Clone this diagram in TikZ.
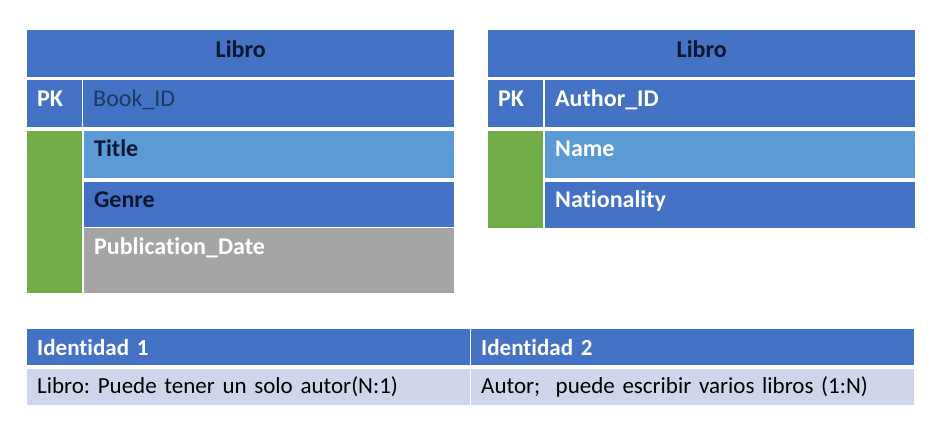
\documentclass[tikz,border=0pt]{standalone}
\usepackage{fontspec}
\setmainfont{Carlito}[Ligatures=NoCommon]
\usetikzlibrary{positioning}
\definecolor{hdrblue}{HTML}{4472C4}
\definecolor{ltblue}{HTML}{5B9BD5}
\definecolor{pkgreen}{HTML}{70AD47}
\definecolor{dategray}{HTML}{A5A5A5}
\definecolor{rowlav}{HTML}{CFD5EA}
\definecolor{idtext}{HTML}{1F3864}
\definecolor{darktext}{HTML}{0B1630}
\newcommand{\cellfont}{\fontsize{24}{27}\selectfont\frenchspacing}
\newcommand{\relfont}{\fontsize{23}{26}\selectfont\frenchspacing}
\tikzset{
	cell/.style 2 args={anchor=north west, inner xsep=10pt, inner ysep=0pt, align=left,
		text width=#1, text height=26pt, text depth=#2, font=\cellfont},
	hdrcell/.style={fill=hdrblue, align=center, text=darktext, font=\cellfont\bfseries},
	whitebold/.style={text=white, font=\cellfont\bfseries},
	blackbold/.style={text=darktext, font=\cellfont\bfseries},
	relhead/.style={fill=hdrblue, text=white, font=\relfont\bfseries},
	relrow/.style={fill=rowlav, text=black, font=\relfont}
}
\begin{document}
\begin{tikzpicture}[x=1pt, y=-1pt]
		\useasboundingbox [fill=white] ( 0, 0 ) rectangle ( 946, 436 );
		% tabla Libro
		\node [cell={407pt}{20pt}, text height=27pt, hdrcell] (hdrL) at ( 27, 30 ) {Libro};
		\node [cell={35pt}{21pt}, fill=hdrblue, whitebold] (pkL) at ( 27, 80 ) {PK};
		\node [cell={351pt}{21pt}, fill=hdrblue, text=idtext] (idL) at ( 83, 80 ) {Book\_ID};
		\node [cell={35pt}{136pt}, fill=pkgreen] (grL) at ( 27, 131 ) {};
		\node [cell={350pt}{22pt}, text height=25pt, fill=ltblue, blackbold] (titleL) at ( 84, 131 ) {Title};
		\node [cell={350pt}{20pt}, text height=25pt, fill=hdrblue, blackbold] (genreL) at ( 84, 182 ) {Genre};
		\node [cell={350pt}{39pt}, fill=dategray, whitebold] (dateL) at ( 84, 228 ) {Publication\_Date};
		% tabla Autor
		\node [cell={407pt}{20pt}, text height=27pt, hdrcell] (hdrR) at ( 488, 30 ) {Libro};
		\node [cell={35pt}{21pt}, fill=hdrblue, whitebold] (pkR) at ( 488, 80 ) {PK};
		\node [cell={350pt}{21pt}, fill=hdrblue, whitebold] (idR) at ( 545, 80 ) {Author\_ID};
		\node [cell={35pt}{71pt}, fill=pkgreen] (grR) at ( 488, 131 ) {};
		\node [cell={350pt}{22pt}, text height=25pt, fill=ltblue, whitebold] (nameR) at ( 545, 131 ) {Name};
		\node [cell={350pt}{21pt}, text height=25pt, fill=hdrblue, whitebold] (natR) at ( 545, 182 ) {Nationality};
		% relaciones
		\node [cell={423pt}{10pt}, relhead] (id1) at ( 27, 329 ) {Identidad 1};
		\node [cell={423pt}{10pt}, relhead] (id2) at ( 471, 329 ) {Identidad 2};
		\node [cell={423pt}{12pt}, text height=24pt, relrow] (rel1) at ( 27, 369 ) {Libro: Puede tener un solo autor(N:1)};
		\node [cell={423pt}{12pt}, text height=24pt, relrow] (rel2) at ( 471, 369 ) {Autor;\ \ puede escribir varios libros (1:N)};
	\end{tikzpicture}
\end{document}
